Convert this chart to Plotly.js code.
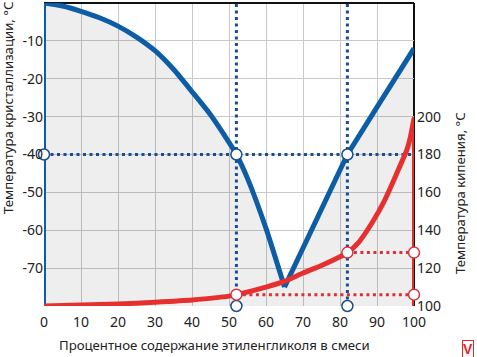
<!DOCTYPE html>
<html><head><meta charset="utf-8">
<script src="https://cdn.plot.ly/plotly-3.0.1.min.js"></script>
<style>body{margin:0;background:#fff}#c{width:477px;height:357px}</style>
</head><body><div id="c"></div>
<script>
// Freezing (crystallization) temperature vs ethylene glycol %
const freezePct = [0,5,10,15,20,25,30,35,40,45,50,52,55,60,65,82,90,100];
const freezeTemp = [0,-0.8,-2.2,-3.9,-6.1,-9,-12.6,-17.5,-23.4,-29.5,-36.8,-40,-46.3,-59.5,-75,-40,-27.5,-12];
// Boiling temperature vs ethylene glycol %
const boilPct = [0,10,20,30,40,50,52,60,65,70,75,80,82,85,89,92,94,96,98,99,100];
const boilTemp = [100,100.5,101,102,103.2,105.2,106,110,113,117.4,121.4,126,128.2,133.5,145,155.5,164,173,182,189,199];
// Marked mixtures
const markPct = [52,82];
const markFreeze = -40;
const markBoil = [106,128.2];
const leftRange = [-80,0];
const rightRange = [100,260];
const xTicks = [0,10,20,30,40,50,60,70,80,90,100];
const leftTicks = [-70,-60,-50,-40,-30,-20,-10];
const rightTicks = [100,120,140,160,180,200];
const xTitle = 'Процентное содержание этиленгликоля в смеси';
const leftTitle = 'Температура кристаллизации, °С';
const rightTitle = 'Температура кипения, °С';

const BLUE = '#0d5ca6', DBLUE = '#1a4e8e', RED = '#e6302f', DRED = '#d9323a';
const dotted = '3px,3.5px';
// split freezing curve at its eutectic minimum
let iMin = 0;
freezeTemp.forEach((t,i)=>{ if (t < freezeTemp[iMin]) iMin = i; });
const traces = [];
// baseline + fill under freezing curve
traces.push({x:[0,100], y:[leftRange[0],leftRange[0]], mode:'lines', line:{width:0}, hoverinfo:'skip', showlegend:false});
traces.push({x:freezePct, y:freezeTemp, mode:'lines', fill:'tonexty', fillcolor:'rgba(0,0,0,0.065)', line:{width:0, shape:'linear'}, hoverinfo:'skip', showlegend:false});
// blue dotted guides
traces.push({x:[0,100], y:[markFreeze,markFreeze], mode:'lines', line:{color:DBLUE,width:3,dash:dotted}, showlegend:false});
markPct.forEach(p=>traces.push({x:[p,p], y:leftRange, mode:'lines', line:{color:DBLUE,width:3,dash:dotted}, showlegend:false}));
// red dotted guides
markPct.forEach((p,i)=>traces.push({x:[p,100], y:[markBoil[i],markBoil[i]], yaxis:'y2', mode:'lines', line:{color:DRED,width:3,dash:dotted}, showlegend:false}));
// left blue axis line and right red line
traces.push({x:[0,0], y:leftRange, mode:'lines', line:{color:BLUE,width:4}, showlegend:false});
traces.push({x:[100,100], y:[boilTemp[0],200], yaxis:'y2', mode:'lines', line:{color:RED,width:4}, showlegend:false});
// main curves
traces.push({x:boilPct, y:boilTemp, yaxis:'y2', mode:'lines', line:{color:RED,width:5,shape:'spline',smoothing:0.5}, showlegend:false});
traces.push({x:freezePct.slice(0,iMin+1), y:freezeTemp.slice(0,iMin+1), mode:'lines', line:{color:BLUE,width:5,shape:'spline',smoothing:0.6}, showlegend:false});
traces.push({x:freezePct.slice(iMin), y:freezeTemp.slice(iMin), mode:'lines', line:{color:BLUE,width:5}, showlegend:false});
// circles
traces.push({x:[0].concat(markPct,markPct), y:[markFreeze,markFreeze,markFreeze,leftRange[0],leftRange[0]], mode:'markers', cliponaxis:false,
  marker:{size:11,color:'#fff',line:{color:DBLUE,width:1.5}}, showlegend:false});
traces.push({x:markPct.concat([100,100]), y:markBoil.concat(markBoil), yaxis:'y2', mode:'markers', cliponaxis:false,
  marker:{size:11,color:'#fff',line:{color:DRED,width:1.5}}, showlegend:false});

const F = 'Noto Sans, Open Sans, sans-serif';
const layout = {
  width:477, height:357,
  margin:{l:44, r:63, t:3, b:51},
  paper_bgcolor:'#fff', plot_bgcolor:'#fff',
  font:{family:F, size:14, color:'#222'},
  xaxis:{range:[0,100], tickvals:xTicks, showgrid:true, gridcolor:'#c9c9c9', gridwidth:1, zeroline:false, showline:false, ticks:'', ticklabelstandoff:6, fixedrange:true},
  yaxis:{range:leftRange, tickvals:leftTicks, ticktext:leftTicks.map(String), showgrid:true, gridcolor:'#c9c9c9', gridwidth:1,
    zeroline:true, zerolinecolor:'#111', zerolinewidth:2, showline:false, ticks:''},
  yaxis2:{range:rightRange, overlaying:'y', side:'right', tickvals:rightTicks, showgrid:false, zeroline:false, showline:false, ticks:'', ticklabelstandoff:2},
  shapes:[
    {type:'line', xref:'paper', yref:'paper', x0:1, x1:1, y0:0, y1:1, line:{color:'#111', width:2}, layer:'below'}
  ],
  annotations:[
    {text:xTitle, xref:'paper', yref:'paper', x:(214-44)/370, y:-(345-306)/303, xanchor:'center', yanchor:'middle', showarrow:false, font:{size:13.2}},
    {text:leftTitle, xref:'paper', yref:'paper', x:-(44-8)/370, y:(306-108)/303, xanchor:'center', yanchor:'middle', textangle:-90, showarrow:false, font:{size:13.2}},
    {text:rightTitle, xref:'paper', yref:'paper', x:1+(460-414)/370, y:(306-193)/303, xanchor:'center', yanchor:'middle', textangle:-90, showarrow:false, font:{size:13.2}},
    {text:'<b>V</b>', xref:'paper', yref:'paper', x:1+(468-414)/370, y:-(349-306)/303, xanchor:'center', yanchor:'middle', showarrow:false,
      font:{size:14,color:'#e4262f', family:'Liberation Sans, Arial, sans-serif'}, bordercolor:'#e4262f', borderwidth:1, borderpad:0, bgcolor:'#fff'}
  ]
};
Plotly.newPlot('c', traces, layout, {displayModeBar:false, staticPlot:true});
</script></body></html>
